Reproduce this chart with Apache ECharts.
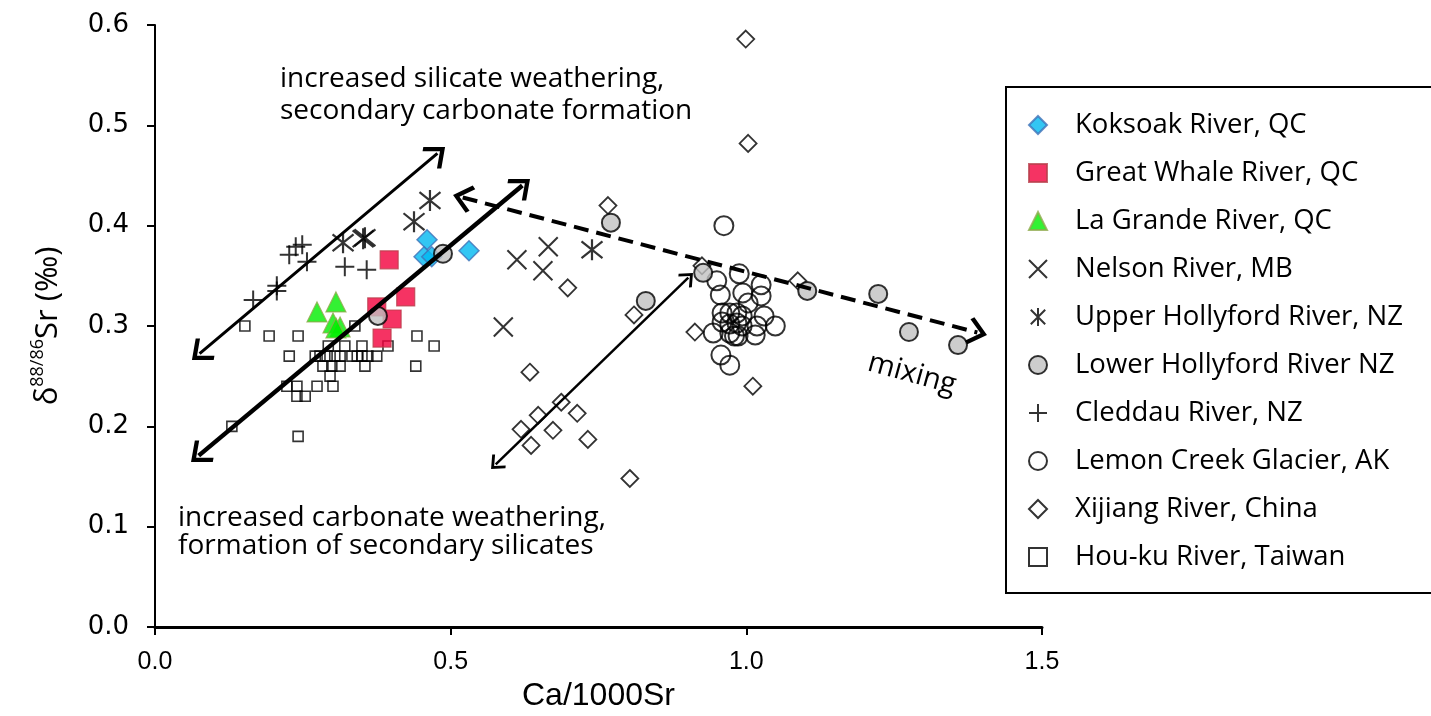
<!DOCTYPE html>
<html>
<head>
<meta charset="utf-8">
<script src="https://cdn.jsdelivr.net/npm/echarts@6/dist/echarts.min.js"></script>
<style>
  html, body { margin: 0; padding: 0; background: #fff; }
  #main { width: 1431px; height: 716px; }
</style>
</head>
<body>
<div id="main"></div>
<script>
// [Ca/1000Sr, d88/86Sr] pairs
const koksoak = [[0.460, 0.386], [0.455, 0.369], [0.468, 0.369], [0.531, 0.375]];
const greatWhale = [[0.396, 0.366], [0.424, 0.329], [0.375, 0.319], [0.401, 0.307], [0.384, 0.288]];
const laGrande = [[0.274, 0.314], [0.306, 0.324], [0.301, 0.303], [0.313, 0.299], [0.306, 0.298]];
const nelson = [[0.612, 0.366], [0.665, 0.379], [0.656, 0.355], [0.589, 0.299]];
const upperHollyford = [[0.318, 0.383], [0.352, 0.387], [0.355, 0.388], [0.438, 0.404], [0.465, 0.425], [0.739, 0.376]];
const lowerHollyford = [[0.377, 0.310], [0.487, 0.372], [0.771, 0.403], [0.830, 0.325], [0.927, 0.353],
  [1.103, 0.335], [1.223, 0.332], [1.275, 0.294], [1.358, 0.281]];
const cleddau = [[0.166, 0.326], [0.206, 0.340], [0.206, 0.335], [0.227, 0.371], [0.238, 0.379],
  [0.249, 0.381], [0.257, 0.364], [0.321, 0.359], [0.358, 0.356]];
const lemonCreek = [[0.962, 0.400], [0.988, 0.352], [0.950, 0.345], [0.956, 0.331], [0.994, 0.333],
  [1.025, 0.341], [1.025, 0.330], [1.003, 0.323], [1.030, 0.310], [0.959, 0.313], [0.972, 0.313],
  [0.984, 0.313], [0.993, 0.310], [0.959, 0.304], [0.972, 0.302], [0.984, 0.303], [0.993, 0.300],
  [1.018, 0.300], [1.049, 0.300], [0.944, 0.293], [0.972, 0.293], [0.986, 0.290], [1.015, 0.291],
  [0.980, 0.290], [0.957, 0.271], [0.972, 0.261]];
const xijiang = [[0.999, 0.586], [1.003, 0.482], [0.766, 0.420], [0.698, 0.338], [0.810, 0.311],
  [0.913, 0.294], [0.634, 0.254], [1.011, 0.240], [0.687, 0.224], [0.648, 0.211], [0.714, 0.213],
  [0.619, 0.197], [0.673, 0.196], [0.636, 0.181], [0.732, 0.187], [0.803, 0.148], [1.087, 0.345],
  [0.925, 0.360]];
const houku = [[0.152, 0.30], [0.193, 0.29], [0.242, 0.29], [0.338, 0.30], [0.293, 0.28], [0.321, 0.28],
  [0.350, 0.28], [0.394, 0.28], [0.227, 0.27], [0.271, 0.27], [0.279, 0.27], [0.291, 0.27],
  [0.304, 0.27], [0.313, 0.27], [0.333, 0.27], [0.342, 0.27], [0.350, 0.27], [0.360, 0.27],
  [0.375, 0.27], [0.443, 0.29], [0.472, 0.28], [0.441, 0.26], [0.284, 0.26], [0.299, 0.26],
  [0.313, 0.26], [0.355, 0.26], [0.296, 0.25], [0.223, 0.24], [0.240, 0.24], [0.274, 0.24],
  [0.301, 0.24], [0.240, 0.23], [0.254, 0.23], [0.130, 0.20], [0.242, 0.19]];

const xTicks = [0, 0.5, 1.0, 1.5];
const yTicks = [0, 0.1, 0.2, 0.3, 0.4, 0.5, 0.6];

const names = ['Koksoak River, QC', 'Great Whale River, QC', 'La Grande River, QC', 'Nelson River, MB',
  'Upper Hollyford River, NZ', 'Lower Hollyford River NZ', 'Cleddau River, NZ',
  'Lemon Creek Glacier, AK', 'Xijiang River, China', 'Hou-ku River, Taiwan'];

const CROSS = 'path://M0,0L10,10M10,0L0,10';
const PLUS = 'path://M5,0L5,10M0,5L10,5';
const STAR = 'path://M1,1L9,9M9,1L1,9M5,0L5,10';
// open chevron arrow head, tip pointing up
const HEAD = 'path://M0,0L12,12L9.6,14.4L0,4.8L-9.6,14.4L-12,12Z';

const NONE = 'rgba(0,0,0,0)';
const txtFont = '"Open Sans", "Noto Sans", sans-serif';

function pts(name, data, symbol, size, style, z) {
  return {
    name, type: 'scatter', data, symbol, symbolSize: size, z: z || 2,
    itemStyle: style, emphasis: { disabled: true }, animation: false
  };
}

const chart = echarts.init(document.getElementById('main'));

chart.setOption({
  backgroundColor: '#fff',
  animation: false,
  grid: { left: 155, right: 389, top: 25, bottom: 89, outerBoundsMode: 'none' },
  xAxis: {
    type: 'value', min: 0, max: 1.5, interval: 0.5,
    name: 'Ca/1000Sr', nameLocation: 'middle', nameGap: 47,
    nameTextStyle: { fontFamily: '"Liberation Sans Narrow", "Liberation Sans", sans-serif', fontSize: 32, color: '#000' },
    axisLine: { lineStyle: { color: '#000', width: 3 } },
    axisTick: { length: 8, lineStyle: { color: '#000', width: 2 } },
    axisLabel: {
      margin: 23, color: '#000', fontSize: 25,
      fontFamily: '"Liberation Sans Narrow", "Liberation Sans", sans-serif',
      formatter: v => xTicks.includes(+v.toFixed(1)) ? v.toFixed(1) : ''
    },
    splitLine: { show: false }
  },
  yAxis: {
    type: 'value', min: 0, max: 0.6, interval: 0.1,
    name: '{a|δ}{s|88/86}{a|Sr (‰)}', nameLocation: 'middle', nameGap: 88, nameRotate: 90,
    nameTextStyle: {
      rich: {
        a: { fontFamily: txtFont, fontSize: 31, color: '#000', lineHeight: 38 },
        s: { fontFamily: txtFont, fontSize: 18, color: '#000', lineHeight: 38, verticalAlign: 'top', padding: [0, 0, 12, 0] }
      }
    },
    axisLine: { lineStyle: { color: '#000', width: 2 } },
    axisTick: { length: 8, lineStyle: { color: '#000', width: 2 } },
    axisLabel: {
      margin: 26, color: '#000', fontSize: 26, fontFamily: '"DejaVu Sans", sans-serif',
      formatter: v => yTicks.includes(+v.toFixed(1)) ? v.toFixed(1) : ''
    },
    splitLine: { show: false }
  },
  legend: {
    data: names, orient: 'vertical', left: 1006, top: 87,
    padding: [24, 120, 22, 22], itemGap: 20, itemWidth: 18, itemHeight: 18,
    borderColor: '#000', borderWidth: 2, backgroundColor: '#fff', selectedMode: false,
    textStyle: { fontFamily: txtFont, fontSize: 27.5, color: '#000', lineHeight: 24, padding: [0, 0, 0, 23] }
  },
  graphic: [
    { type: 'text', left: 280, top: 65, style: { text: 'increased silicate weathering,', font: '28px ' + txtFont, fill: '#000' } },
    { type: 'text', left: 280, top: 97, style: { text: 'secondary carbonate formation', font: '28px ' + txtFont, fill: '#000' } },
    { type: 'text', left: 178, top: 504, style: { text: 'increased carbonate weathering,', font: '28px ' + txtFont, fill: '#000' } },
    { type: 'text', left: 178, top: 532, style: { text: 'formation of secondary silicates', font: '28px ' + txtFont, fill: '#000' } },
    { type: 'text', x: 912, y: 374, rotation: -0.27,
      style: { text: 'mixing', font: '29px ' + txtFont, fill: '#000', align: 'center', verticalAlign: 'middle' } }
  ],
  series: [
    pts(names[9], houku, 'rect', 10, { color: NONE, borderColor: '#000', borderWidth: 1.6 }),
    pts(names[8], xijiang, 'diamond', 17, { color: NONE, borderColor: '#000', borderWidth: 1.8 }),
    pts(names[7], lemonCreek, 'circle', 19, { color: NONE, borderColor: '#000', borderWidth: 2 }),
    pts(names[6], cleddau, PLUS, 19, { color: NONE, borderColor: '#000', borderWidth: 2 }),
    pts(names[4], upperHollyford, STAR, 21, { color: NONE, borderColor: '#000', borderWidth: 2.2 }),
    pts(names[3], nelson, CROSS, 19, { color: NONE, borderColor: '#000', borderWidth: 2 }),
    pts(names[0], koksoak, 'diamond', 20, { color: '#00b8f0', borderColor: '#3f72b8', borderWidth: 1.5 }),
    pts(names[1], greatWhale, 'rect', 18, { color: '#f2003c', borderColor: '#b8404c', borderWidth: 1.2 }),
    pts(names[2], laGrande, 'triangle', 20, { color: '#00ee00', borderColor: '#8faa4c', borderWidth: 1.2 }),
    pts(names[5], lowerHollyford, 'circle', 18, { color: '#c0c0c0', borderColor: '#000', borderWidth: 2 }),
    {
      type: 'scatter', data: [], z: 5, silent: true,
      markLine: {
        silent: true, animation: false, symbol: [HEAD, HEAD], symbolSize: [28, 20],
        label: { show: false }, emphasis: { disabled: true },
        lineStyle: { color: '#000', type: 'solid', width: 3 },
        data: [
          [{ coord: [0.0754, 0.2725] }, { coord: [0.4776, 0.4720] }],
          [{ coord: [0.0739, 0.1708], lineStyle: { width: 4.5 } }, { coord: [0.6212, 0.4401], lineStyle: { width: 4.5 } }],
          [{ coord: [0.5762, 0.1620], lineStyle: { width: 2.5 }, symbolSize: [19, 13] },
           { coord: [0.9019, 0.3483], lineStyle: { width: 2.5 }, symbolSize: [19, 13] }],
          [{ coord: [0.5204, 0.4281], lineStyle: { width: 4, type: [15, 8] } },
           { coord: [1.3906, 0.2935], lineStyle: { width: 4, type: [15, 8] } }]
        ]
      }
    }
  ]
});
</script>
</body>
</html>
